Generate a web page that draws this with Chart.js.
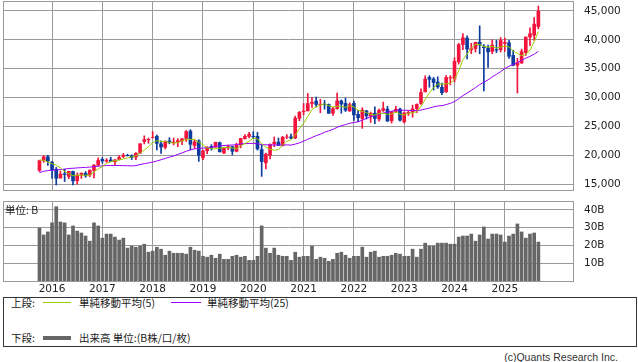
<!DOCTYPE html>
<html lang="ja">
<head>
<meta charset="UTF-8">
<title>日経平均 月足チャート</title>
<script src="https://cdn.jsdelivr.net/npm/chart.js"></script>
<style>
  body { margin: 0; width: 638px; height: 362px; position: relative; overflow: hidden; background: #fff; }
  canvas { position: absolute; left: 0; }
  #priceChart { top: 0; }
  #volumeChart { top: 195px; }
  .txt { position: absolute; white-space: nowrap; line-height: 11px; font-size: 10.5px; color: #222;
         font-family: "Noto Sans CJK JP", sans-serif; }
  .ln { position: absolute; }
  #legendBox { position: absolute; left: 3px; top: 297px; width: 632px; height: 48px; border: 1px solid #333; }
  #copy { position: absolute; right: 20px; top: 351px; font-family: "Liberation Sans", sans-serif; font-size: 10.5px; color: #333; }
</style>
</head>
<body>

<canvas id="priceChart" width="638" height="192"></canvas>
<canvas id="volumeChart" width="638" height="100"></canvas>

<div class="txt" style="left:5px; top:204px;">単位: B</div>

<div id="legendBox"></div>
<div class="txt" style="left:11px; top:297px;">上段:</div>
<div class="ln" style="left:43px; top:302px; width:28px; height:1px; background:#99cc00;"></div>
<div class="txt" style="left:79px; top:297px;">単純移動平均(5)</div>
<div class="ln" style="left:171px; top:302px; width:30px; height:1px; background:#9900ff;"></div>
<div class="txt" style="left:207px; top:297px;">単純移動平均(25)</div>
<div class="txt" style="left:11px; top:332px;">下段:</div>
<div class="ln" style="left:43px; top:336px; width:28px; height:4px; background:#666;"></div>
<div class="txt" style="left:79px; top:332px;">出来高 単位:(B株/口/枚)</div>
<div id="copy">(c)Quants Research Inc.</div>

<script>
    // monthly candles, Oct 2015 .. Sep 2025
    const openP = [
        17400, 19100, 19750, 18818, 17600, 16100, 16800, 16357, 17200, 15600, 16600, 16900,
        16600, 17400, 18300, 19300, 19000, 19200, 18900, 19300, 19800, 20000, 19900, 19700,
        20400, 22400, 22700, 23074, 23300, 22000, 21400, 22500, 22200, 22300, 22500, 22900,
        24200, 21700, 22500, 19600, 20800, 21500, 21400, 22200, 20400, 21300, 21500, 20700,
        21800, 22900, 23300, 23300, 23300, 21000, 18700, 20000, 22000, 22300, 21700, 23150,
        23200, 23000, 26400, 27575, 27700, 29000, 29400, 28800, 28900, 28800, 27300, 28100,
        29400, 29000, 27700, 29000, 27100, 26400, 27700, 26800, 27300, 26300, 27800, 28000,
        26000, 27600, 28000, 25800, 27300, 27500, 28100, 29000, 31000, 33500, 33200, 32700,
        31800, 31000, 33400, 33200, 36200, 39200, 40300, 38300, 38500, 39600, 38800, 38600,
        38000, 38300, 38300, 39400, 39500, 37300, 35600, 36000, 37800, 40500, 40800, 42300
    ];
    const highP = [
        19100, 19940, 20010, 18950, 17905, 17290, 17613, 17250, 17273, 16940, 17000, 17200,
        17500, 18400, 19590, 19615, 19450, 19668, 19290, 19961, 20318, 20200, 20100, 20480,
        22010, 23380, 23000, 24129, 23500, 22500, 22500, 23050, 23000, 22900, 22900, 24300,
        24448, 22700, 22700, 20900, 21500, 21860, 22300, 22300, 21300, 21800, 21600, 22100,
        22970, 23600, 24000, 24100, 24000, 21800, 20400, 22000, 23185, 23000, 23300, 23600,
        23700, 26800, 27600, 28979, 30714, 30000, 30100, 29700, 29500, 28900, 28300, 30795,
        29600, 29900, 29100, 29400, 27800, 28250, 27800, 27500, 28400, 28000, 29222, 28500,
        27600, 28500, 28200, 27500, 27800, 28700, 28900, 31500, 33772, 33800, 33500, 33600,
        32500, 33800, 33800, 36900, 39400, 41087, 40700, 39400, 39600, 42426, 39200, 39100,
        40000, 39900, 40400, 40300, 39900, 38200, 36800, 38400, 40500, 42065, 43876, 45852
    ];
    const lowP = [
        17200, 18800, 18256, 16017, 14865, 16000, 15471, 15975, 14864, 15000, 16000, 16200,
        16300, 16111, 18200, 18650, 18800, 18900, 18224, 19200, 19600, 19900, 19280, 19239,
        20300, 21972, 22100, 23000, 20950, 20347, 21100, 22000, 21800, 21500, 21850, 22400,
        20971, 21200, 18949, 19241, 20300, 20900, 21400, 20600, 20300, 21000, 20100, 20600,
        21300, 22800, 23000, 22900, 20900, 16358, 17646, 19400, 21500, 21700, 21600, 22900,
        22900, 22900, 26000, 27000, 27700, 28300, 28400, 27385, 28000, 27300, 26900, 28000,
        27293, 27600, 27600, 26044, 25775, 24681, 26300, 25700, 25500, 25900, 27600, 25900,
        25600, 27400, 25900, 25600, 26900, 26600, 27400, 28800, 31000, 31800, 31300, 31600,
        30500, 30900, 32200, 32700, 35800, 38300, 36700, 37600, 37900, 37600, 31156, 35247,
        37600, 37800, 37900, 38000, 36800, 35500, 30793, 35900, 37300, 39000, 39900, 41900
    ];
    const closeP = [
        19083, 19747, 19033, 17518, 16026, 16758, 16666, 17234, 15575, 16569, 16887, 16449,
        17425, 18308, 19114, 19041, 19118, 18909, 19196, 19650, 20033, 19925, 19646, 20356,
        22011, 22724, 22764, 23098, 22068, 21454, 22467, 22201, 22304, 22553, 22865, 24120,
        21920, 22351, 20015, 20773, 21385, 21205, 22258, 20601, 21275, 21521, 20704, 21756,
        22927, 23294, 23656, 23205, 21143, 18917, 20194, 21878, 22288, 21710, 23140, 23185,
        22977, 26434, 27444, 27663, 28966, 29179, 28813, 28860, 28792, 27284, 28090, 29453,
        28893, 27822, 28792, 27002, 26527, 27821, 26848, 27280, 26393, 27802, 28092, 25937,
        27587, 27969, 26095, 27327, 27446, 28041, 28856, 30888, 33189, 33172, 32619, 31858,
        30859, 33487, 33464, 36287, 39166, 40369, 38406, 38488, 39583, 39102, 38648, 37920,
        39081, 38208, 39895, 39572, 37156, 35618, 36045, 37965, 40487, 41070, 42718, 44933
    ];
    // closes Oct 2013 .. Sep 2015, needed for the moving averages
    const priorClose = [
        14328, 15662, 16291, 14915, 14841, 14828, 14304, 14632, 15162, 15621, 15425, 16174,
        16414, 17460, 17451, 17674, 18798, 19207, 19520, 20563, 20236, 20585, 18890, 17388
    ];
    // volume, billions of shares
    const volume = [
        29.8, 25.9, 27.6, 32.7, 41.8, 33.2, 32.7, 25.9, 31.0, 28.1, 27.0, 25.3,
        22.4, 32.7, 31.0, 24.1, 26.4, 26.4, 24.7, 23.0, 24.1, 18.5, 19.6, 19.0,
        19.6, 20.7, 16.2, 16.8, 19.0, 17.9, 14.5, 16.8, 15.6, 15.6, 15.6, 15.1,
        19.0, 17.3, 16.8, 13.9, 13.4, 14.5, 12.8, 15.1, 12.2, 12.2, 13.9, 14.5,
        13.4, 13.9, 11.6, 11.6, 13.9, 31.0, 18.5, 15.6, 18.5, 14.5, 13.9, 13.9,
        11.6, 16.2, 13.4, 13.9, 13.9, 19.6, 12.2, 13.4, 12.8, 11.1, 12.2, 15.6,
        16.2, 14.5, 12.8, 13.9, 13.9, 19.0, 13.4, 16.2, 16.8, 13.4, 13.9, 13.9,
        14.5, 15.6, 15.1, 13.9, 13.9, 17.9, 13.4, 17.9, 21.3, 19.6, 19.6, 21.3,
        21.3, 21.3, 20.7, 20.7, 24.7, 25.3, 25.3, 26.4, 22.4, 25.9, 30.4, 23.6,
        26.4, 26.4, 25.9, 21.9, 25.3, 26.4, 32.1, 27.6, 24.1, 26.4, 27.0, 21.9
    ];
    const yearLabels = ['2016', '2017', '2018', '2019', '2020', '2021', '2022', '2023', '2024', '2025'];
    const priceTicks = [15000, 20000, 25000, 30000, 35000, 40000, 45000];
    const volumeTicks = [10, 20, 30, 40];

    // month index 0 = Oct 2015, so January of each year sits at 3, 15, 27 ...
    const yearIdx = yearLabels.map((y, k) => 3 + k * 12);

    // simple moving averages of the close
    const allClose = priorClose.concat(closeP);
    function sma(n) {
        return closeP.map((c, i) => {
            const end = i + priorClose.length;
            let s = 0;
            for (let k = end - n + 1; k <= end; k++) s += allClose[k];
            return { x: i, y: s / n };
        });
    }

    const UP = '#f2143c', DOWN = '#0b3b9c', GRID = '#9a9a9a';
    const candleColors = closeP.map((c, i) => c >= openP[i] ? UP : DOWN);
    const X_MIN = -8.7, X_MAX = 127.5;

    Chart.defaults.font.family = 'DejaVu Sans';
    Chart.defaults.font.size = 10.5;
    Chart.defaults.color = '#222';

    // gray box around the plot area
    const frame = {
        id: 'frame',
        afterDraw(chart) {
            const a = chart.chartArea, c = chart.ctx;
            c.save();
            c.strokeStyle = GRID;
            c.lineWidth = 1;
            c.strokeRect(a.left + 0.5, a.top + 0.5, a.right - a.left - 1, a.bottom - a.top);
            c.restore();
        }
    };

    // no extra room for edge labels, the plot box is placed by hand
    function noPad(ax) {
        ax.paddingTop = 0; ax.paddingBottom = 0;
        ax.paddingLeft = 0; ax.paddingRight = 0;
    }

    function xAxis(showLabels) {
        return {
            type: 'linear', min: X_MIN, max: X_MAX, offset: false,
            afterBuildTicks: ax => { ax.ticks = yearIdx.map(v => ({ value: v })); },
            afterFit: ax => { ax.height = showLabels ? 14 : 0; noPad(ax); },
            ticks: {
                display: showLabels, padding: 2, autoSkip: false, maxRotation: 0,
                callback: (v, i) => yearLabels[i]
            },
            grid: { color: GRID, drawTicks: false, offset: false },
            border: { display: false }
        };
    }

    new Chart(document.getElementById('priceChart'), {
        type: 'bar',
        data: {
            datasets: [
                { type: 'line', data: sma(5), borderColor: '#99cc00', borderWidth: 1,
                  pointRadius: 0, order: 0 },
                { type: 'line', data: sma(25), borderColor: '#9900ff', borderWidth: 1,
                  pointRadius: 0, order: 1 },
                { data: openP.map((o, i) => ({ x: i, y: [o, closeP[i]] })),
                  backgroundColor: candleColors, barThickness: 3, grouped: false, order: 2 },
                { data: lowP.map((l, i) => ({ x: i, y: [l, highP[i]] })),
                  backgroundColor: candleColors, barThickness: 1, grouped: false, order: 3 }
            ]
        },
        options: {
            responsive: false,
            animation: false,
            layout: { padding: { left: 3, top: 1, right: 0, bottom: 2 } },
            plugins: { legend: { display: false }, tooltip: { enabled: false } },
            scales: {
                x: xAxis(false),
                y: {
                    position: 'right', min: 14000, max: 46730,
                    afterBuildTicks: ax => { ax.ticks = priceTicks.map(v => ({ value: v })); },
                    afterFit: ax => { ax.width = 64; noPad(ax); },
                    ticks: { padding: 10, callback: v => v.toLocaleString('en-US') },
                    grid: { color: GRID, drawTicks: false },
                    border: { display: false }
                }
            }
        },
        plugins: [frame]
    });

    new Chart(document.getElementById('volumeChart'), {
        type: 'bar',
        data: {
            datasets: [{
                data: volume.map((v, i) => ({ x: i, y: v })),
                backgroundColor: '#666666', barThickness: 3
            }]
        },
        options: {
            responsive: false,
            animation: false,
            layout: { padding: { left: 3, top: 6, right: 0, bottom: 0 } },
            plugins: { legend: { display: false }, tooltip: { enabled: false } },
            scales: {
                x: xAxis(true),
                y: {
                    position: 'right', min: 0, max: 45,
                    afterBuildTicks: ax => { ax.ticks = volumeTicks.map(v => ({ value: v })); },
                    afterFit: ax => { ax.width = 64; noPad(ax); },
                    ticks: { padding: 10, callback: v => v + 'B' },
                    grid: { color: GRID, drawTicks: false },
                    border: { display: false }
                }
            }
        },
        plugins: [frame]
    });
</script>

</body>
</html>
